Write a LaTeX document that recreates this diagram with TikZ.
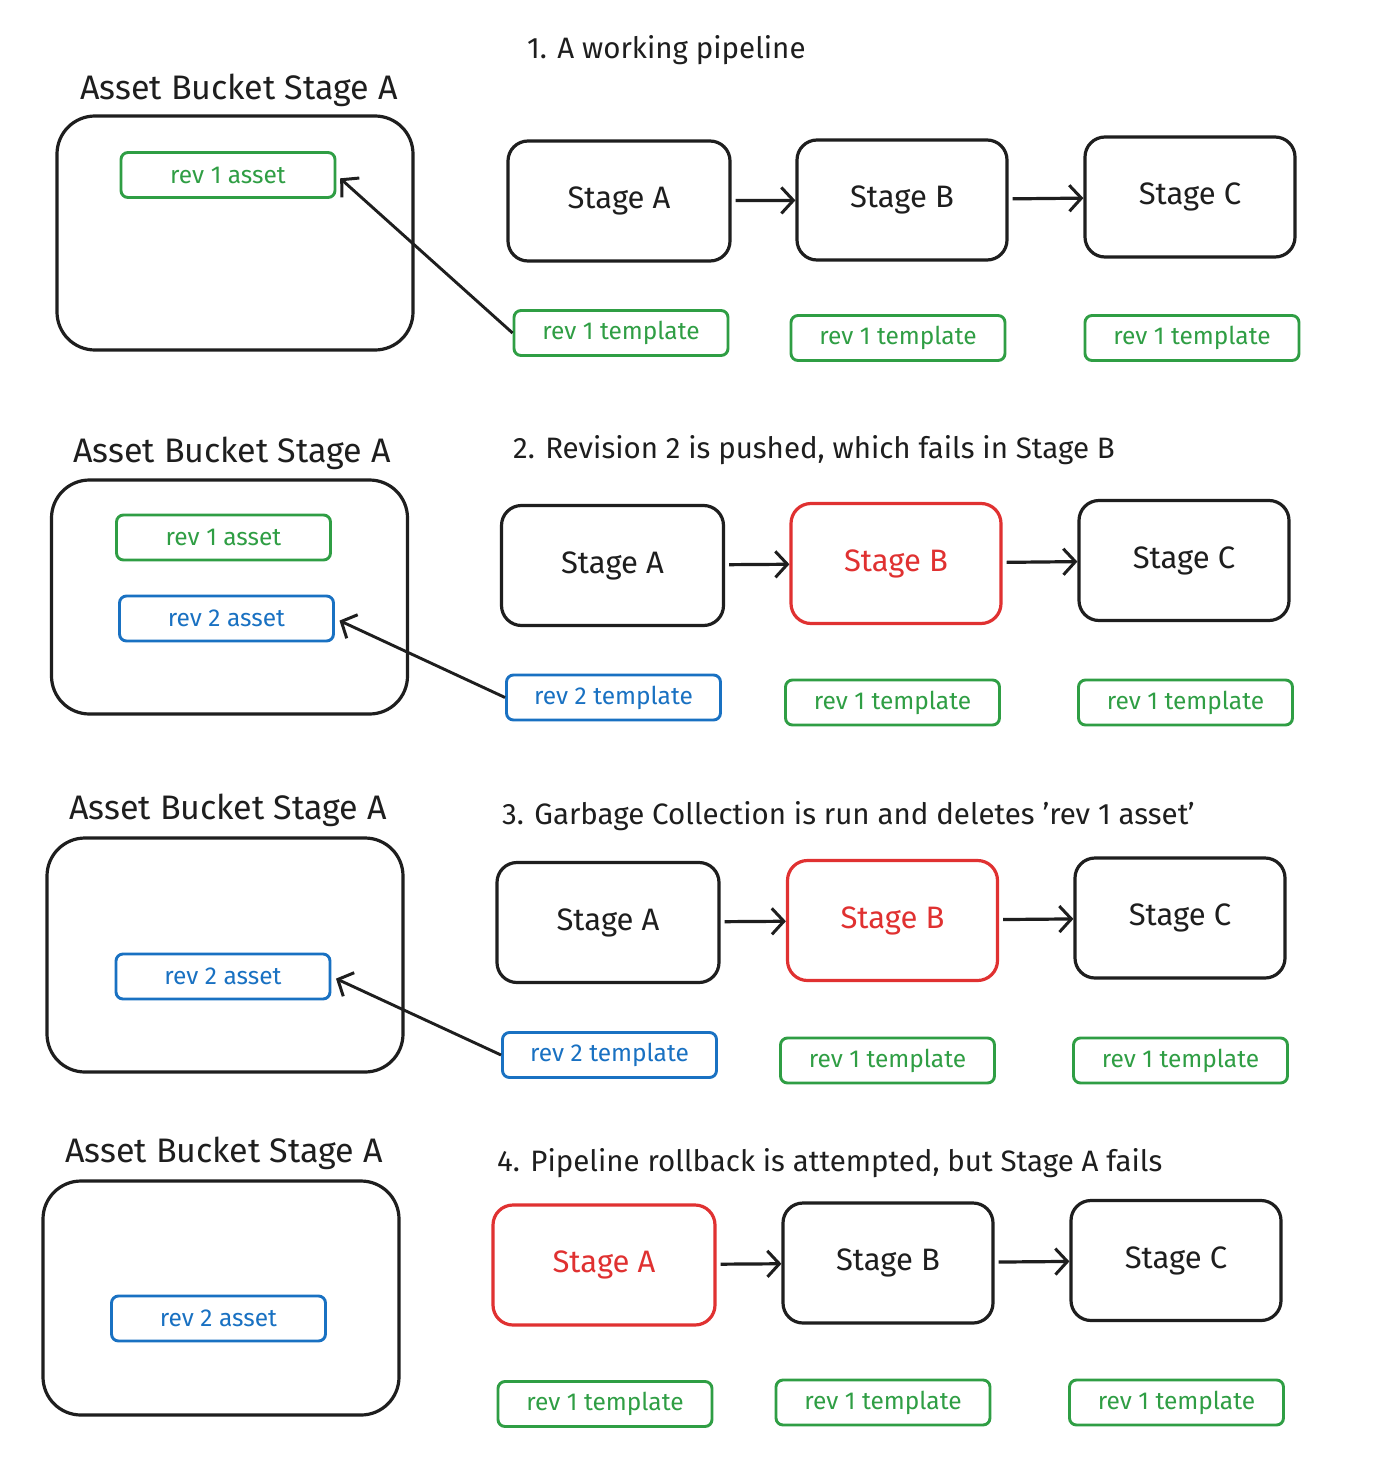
\documentclass[tikz,border=0pt]{standalone}
\usepackage{fontspec}
\setmainfont{Fira Sans}
\usetikzlibrary{arrows.meta}
\definecolor{ink}{HTML}{1E1E1E}
\definecolor{exgreen}{HTML}{2F9E44}
\definecolor{exblue}{HTML}{1971C2}
\definecolor{exred}{HTML}{E03131}
\begin{document}
\begin{tikzpicture}[x=1pt,y=-1pt,
 box/.style={draw=ink, line width=3.2pt, rounded corners=20pt, inner sep=0pt},
 stagebox/.style={box, minimum width=210pt, minimum height=120pt, font=\fontsize{31}{36}\selectfont, text=ink},
 failbox/.style={stagebox, draw=exred, text=exred},
 bucket/.style={box, minimum width=356pt, minimum height=234pt, rounded corners=38pt},
 tag/.style={draw, line width=2.9pt, rounded corners=7pt, minimum width=214pt, minimum height=45pt, font=\fontsize{24.5}{28}\selectfont, inner sep=0pt},
 greentag/.style={tag, draw=exgreen, text=exgreen},
 bluetag/.style={tag, draw=exblue, text=exblue},
 heading/.style={anchor=west, font=\fontsize{29.5}{34}\selectfont, text=ink, inner sep=0pt},
 buckettitle/.style={anchor=center, font=\fontsize{34}{40}\selectfont, text=ink, inner sep=0pt},
 flow/.style={draw=ink, line width=3.2pt, shorten <=4pt, -{Straight Barb[length=12pt,width=26pt,line width=3pt]}},
 link/.style={flow, line width=2.9pt, shorten <=0pt, shorten >=5pt}
]
\useasboundingbox[fill=white] (0,0) rectangle (1374,1480);

% ---------- Section 1 ----------
\node[buckettitle] (t1) at (239,90) {Asset Bucket Stage A};
\node[bucket] (b1) at (235,233) {};
\node[greentag] (a1r1) at (228,175) {rev 1 asset};
\node[heading] (h1) at (527,50) {1. A working pipeline};
\node[stagebox, minimum width=222pt] (s1a) at (619,201) {Stage A};
\node[stagebox] (s1b) at (902,200) {Stage B};
\node[stagebox] (s1c) at (1190,197) {Stage C};
\node[greentag] (p1a) at (621,333) {rev 1 template};
\node[greentag] (p1b) at (898,338) {rev 1 template};
\node[greentag] (p1c) at (1192,338) {rev 1 template};
\draw[flow] (s1a) -- (s1b);
\draw[flow] (s1b) -- (s1c);
\draw[link] (p1a.west) -- (a1r1.east);

% ---------- Section 2 ----------
\node[buckettitle] (t2) at (232,453) {Asset Bucket Stage A};
\node[bucket] (b2) at (229.5,597) {};
\node[greentag] (a2r1) at (223.5,537.5) {rev 1 asset};
\node[bluetag] (a2r2) at (226.5,618.5) {rev 2 asset};
\node[heading] (h2) at (513,450) {2. Revision 2 is pushed, which fails in Stage B};
\node[stagebox, minimum width=222pt] (s2a) at (612.5,565.5) {Stage A};
\node[failbox] (s2b) at (896,563.5) {Stage B};
\node[stagebox] (s2c) at (1184,560.5) {Stage C};
\node[bluetag] (p2a) at (613.5,697.5) {rev 2 template};
\node[greentag] (p2b) at (892.5,702.5) {rev 1 template};
\node[greentag] (p2c) at (1185.5,702.5) {rev 1 template};
\draw[flow] (s2a) -- (s2b);
\draw[flow] (s2b) -- (s2c);
\draw[link] (p2a.west) -- (a2r2.east);

% ---------- Section 3 ----------
\node[buckettitle] (t3) at (228,810) {Asset Bucket Stage A};
\node[bucket] (b3) at (225,955) {};
\node[bluetag] (a3r2) at (223,976.5) {rev 2 asset};
\node[heading] (h3) at (502,816) {3. Garbage Collection is run and deletes 'rev 1 asset'};
\node[stagebox, minimum width=222pt] (s3a) at (608,922.5) {Stage A};
\node[failbox] (s3b) at (892.5,920.5) {Stage B};
\node[stagebox] (s3c) at (1180,918) {Stage C};
\node[bluetag] (p3a) at (609.5,1055) {rev 2 template};
\node[greentag] (p3b) at (887.5,1060.5) {rev 1 template};
\node[greentag] (p3c) at (1180.5,1060.5) {rev 1 template};
\draw[flow] (s3a) -- (s3b);
\draw[flow] (s3b) -- (s3c);
\draw[link] (p3a.west) -- (a3r2.east);

% ---------- Section 4 ----------
\node[buckettitle] (t4) at (224,1153) {Asset Bucket Stage A};
\node[bucket] (b4) at (221,1298) {};
\node[bluetag] (a4r2) at (218.5,1318.5) {rev 2 asset};
\node[heading] (h4) at (497,1163) {4. Pipeline rollback is attempted, but Stage A fails};
\node[failbox, minimum width=222pt] (s4a) at (604,1265) {Stage A};
\node[stagebox] (s4b) at (888,1263) {Stage B};
\node[stagebox] (s4c) at (1176,1260.5) {Stage C};
\node[greentag] (p4a) at (605,1404) {rev 1 template};
\node[greentag] (p4b) at (883,1402.5) {rev 1 template};
\node[greentag] (p4c) at (1176.5,1402.5) {rev 1 template};
\draw[flow] (s4a) -- (s4b);
\draw[flow] (s4b) -- (s4c);
\end{tikzpicture}
\end{document}
